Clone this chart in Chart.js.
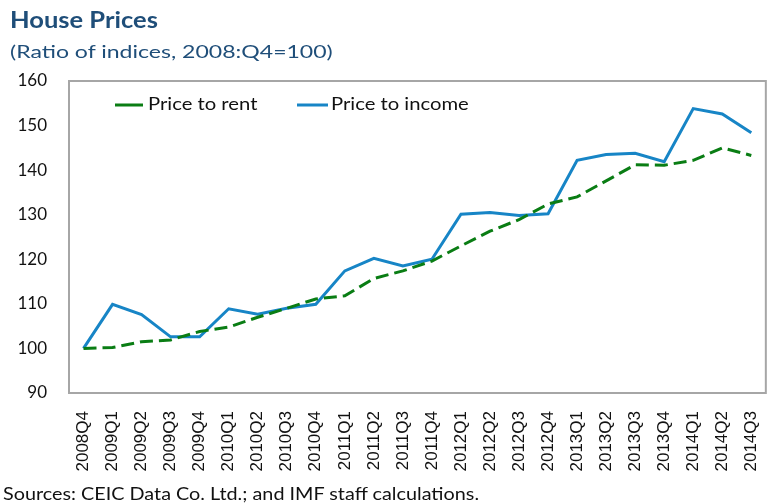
<html>
  <head>
    <script src="https://cdn.jsdelivr.net/npm/chart.js@4.4.1/dist/chart.umd.min.js"></script>
    <title>House Prices</title>
    <style>
      body { margin:0; background:#fff; overflow:hidden; width:768px; height:504px; position:relative; }
      .txt { position:absolute; left:10px; white-space:nowrap; transform-origin:0 0; font-family:Lato, sans-serif; }
      #title { top:6px; font-size:22px; font-weight:bold; color:#1f4e79; transform:scaleX(1.16); }
      #subtitle { top:40px; font-size:18px; color:#1f4e79; transform:scaleX(1.28); }
      #source { left:3px; top:482px; font-size:18px; color:#111; transform:scaleX(1.1); }
      #wrap { position:absolute; left:0; top:0; width:790px; height:504px; }
    </style>
  </head>
  <body>
    <div id="wrap"><canvas id="chart"></canvas></div>
    <div id="title" class="txt">House Prices</div>
    <div id="subtitle" class="txt">(Ratio of indices, 2008:Q4=100)</div>
    <div id="source" class="txt">Sources: CEIC Data Co. Ltd.; and IMF staff calculations.</div>
  </body>
  <script>
    var quarters = ["2008Q4","2009Q1","2009Q2","2009Q3","2009Q4","2010Q1","2010Q2","2010Q3","2010Q4",
      "2011Q1","2011Q2","2011Q3","2011Q4","2012Q1","2012Q2","2012Q3","2012Q4",
      "2013Q1","2013Q2","2013Q3","2013Q4","2014Q1","2014Q2","2014Q3"];
    var priceToRent = [100, 100.2, 101.5, 101.9, 103.8, 104.8, 107.0, 109.0, 111.1,
      111.8, 115.7, 117.4, 119.6, 123.0, 126.3, 128.9, 132.4,
      134.0, 137.6, 141.2, 141.1, 142.2, 145.0, 143.3];
    var priceToIncome = [100, 109.9, 107.6, 102.6, 102.6, 108.9, 107.7, 109.0, 109.9,
      117.4, 120.2, 118.5, 120.0, 130.1, 130.5, 129.8, 130.2,
      142.2, 143.5, 143.8, 141.9, 153.8, 152.6, 148.4];
    var yMin = 90, yMax = 160, yStep = 10;

    // grey box round the plot area
    var boxPlugin = {
      id: 'box',
      beforeDraw: function(chart) {
        var a = chart.chartArea, ctx = chart.ctx;
        ctx.save();
        ctx.strokeStyle = '#a6a6a6';
        ctx.lineWidth = 2;
        ctx.strokeRect(a.left, a.top, a.right - a.left, a.bottom - a.top);
        ctx.restore();
      }
    };

    // legend drawn inside the plot, top left
    var innerLegend = {
      id: 'innerLegend',
      afterDraw: function(chart) {
        var ctx = chart.ctx;
        var items = [{x1:115, x2:143, tx:148}, {x1:297, x2:328, tx:331}];
        var y = 105;
        ctx.save();
        ctx.font = '17px Lato';
        ctx.textBaseline = 'middle';
        chart.data.datasets.forEach(function(ds, i) {
          var it = items[i];
          ctx.strokeStyle = ds.borderColor;
          ctx.lineWidth = 3;
          ctx.beginPath();
          ctx.moveTo(it.x1, y);
          ctx.lineTo(it.x2, y);
          ctx.stroke();
          ctx.save();
          ctx.translate(it.tx, y);
          ctx.scale(1.19, 1);
          ctx.fillStyle = '#111';
          ctx.fillText(ds.label, 0, 0);
          ctx.restore();
        });
        ctx.restore();
      }
    };

    new Chart(document.getElementById('chart'), {
      type: 'line',
      data: {
        labels: quarters,
        datasets: [
          {
            label: 'Price to rent',
            data: priceToRent,
            borderColor: '#0a7d14',
            borderWidth: 3,
            borderDash: [13, 6],
            pointRadius: 0,
            tension: 0
          },
          {
            label: 'Price to income',
            data: priceToIncome,
            borderColor: '#1785c6',
            borderWidth: 3,
            pointRadius: 0,
            tension: 0
          }
        ]
      },
      options: {
        responsive: true,
        maintainAspectRatio: false,
        animation: false,
        layout: { padding: { top: 81, right: 14, bottom: 30, left: 0 } },
        plugins: { legend: { display: false }, tooltip: { enabled: false } },
        scales: {
          x: {
            offset: true,
            grid: { display: false, drawTicks: false },
            border: { display: false },
            afterFit: function(scale) { scale.height = 81; },
            ticks: {
              autoSkip: false,
              minRotation: 90,
              maxRotation: 90,
              padding: 18,
              color: '#111',
              font: { family: 'Liberation Sans', size: 17 }
            }
          },
          y: {
            min: yMin,
            max: yMax,
            grid: { display: false, drawTicks: false },
            border: { display: false },
            afterFit: function(scale) { scale.width = 69; },
            ticks: {
              stepSize: yStep,
              padding: 22,
              color: '#111',
              font: { family: 'Lato', size: 17 }
            }
          }
        }
      },
      plugins: [boxPlugin, innerLegend]
    });
  </script>
</html>
